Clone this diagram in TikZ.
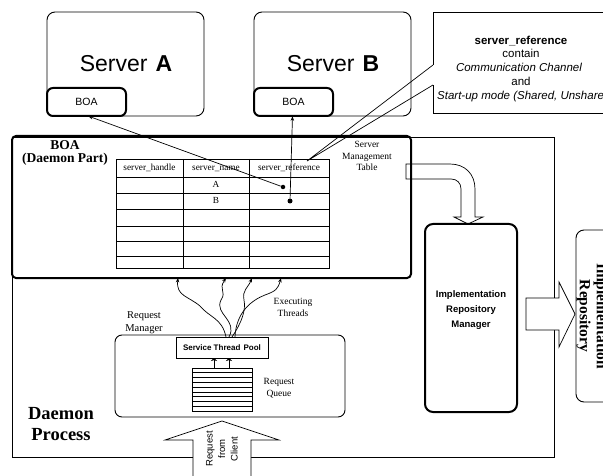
\documentclass[tikz,border=0pt]{standalone}
\usepackage{fontspec}
\setmainfont{Liberation Serif}
\setsansfont{Liberation Sans}
\usetikzlibrary{arrows.meta}
\begin{document}
\begin{tikzpicture}[x=1pt,y=-1pt,
  thinbox/.style={draw,line width=0.9pt,inner sep=0pt,outer sep=0pt},
  thickbox/.style={draw,line width=2pt,inner sep=0pt,outer sep=0pt},
  ptr/.style={line width=0.7pt,-{Stealth[length=5pt,width=3.5pt]}},
  wavy/.style={line width=0.7pt,-{Stealth[length=4.5pt,width=3.5pt]}},
  fat/.style={draw,fill=white,line width=0.7pt,line join=miter},
  cell/.style={font=\fontsize{9.3}{10}\selectfont,anchor=base},
  note/.style={font=\fontsize{9.5}{11.5}\selectfont,align=center,anchor=base},
  label/.style={inner sep=0pt,anchor=base}]
\useasboundingbox (0,0) rectangle (603,476);
\clip (0,0) rectangle (603,476);

% ---------- servers ----------
\node[thinbox,rounded corners=8pt,minimum width=157pt,minimum height=104pt] (serverA) at (125.5,64) {};
\node[thinbox,rounded corners=8pt,minimum width=157pt,minimum height=104pt] (serverB) at (332.5,64) {};
\node[label,font=\sffamily\fontsize{23}{23}\selectfont] (serverAtxt) at (126,72) {Server\hspace{0.35em}\textbf{A}};
\node[label,font=\sffamily\fontsize{23}{23}\selectfont] (serverBtxt) at (333,72) {Server\hspace{0.35em}\textbf{B}};
\node[thickbox,rounded corners=6pt,fill=white,minimum width=79pt,minimum height=28pt,
      font=\sffamily\fontsize{10.5}{11}\selectfont] (boaA) at (86.5,102) {BOA};
\node[thickbox,rounded corners=6pt,fill=white,minimum width=79pt,minimum height=28pt,
      font=\sffamily\fontsize{10.5}{11}\selectfont] (boaB) at (293.5,102) {BOA};

% ---------- callout ----------
\coordinate (calloutTip) at (307,161);
\coordinate (calloutUp) at (433,65);
\coordinate (calloutLo) at (433,85);
\draw[line width=0.8pt] (calloutUp) -- (433,12) -- (650,12) -- (650,113) -- (433,113) -- (calloutLo);
\draw[line width=0.7pt] (calloutUp) -- (calloutTip) -- (calloutLo);
\node[label,font=\sffamily\bfseries\fontsize{11.5}{12}\selectfont] (crefA) at (521,45) {server\_reference};
\node[label,font=\sffamily\fontsize{11.5}{12}\selectfont] (crefB) at (521,58) {contain};
\node[label,font=\sffamily\itshape\fontsize{11.5}{12}\selectfont] (crefC) at (519,72) {Communication Channel};
\node[label,font=\sffamily\fontsize{11.5}{12}\selectfont] (crefD) at (521,86) {and};
\node[label,anchor=base west,font=\sffamily\itshape\fontsize{11.5}{12}\selectfont] (crefE) at (437,100) {Start-up mode (Shared, Unshared)};

% ---------- daemon process frame ----------
\node[thinbox,minimum width=542pt,minimum height=320pt] (daemon) at (283,297) {};
\node[label,align=center,font=\bfseries\fontsize{18.5}{21}\selectfont] (daemonTxt) at (61,440) {Daemon\\Process};

% ---------- bent fat arrow to the repository manager ----------
\draw[fat] (406,164) -- (450,164) .. controls (465,164) and (475,174) .. (475,189)
  -- (475,217) -- (483,217) -- (468,224) -- (454,217) -- (461,217) -- (461,189)
  .. controls (461,183) and (457,179) .. (451,179) -- (406,179) -- cycle;

% ---------- BOA (daemon part) ----------
\node[thickbox,rounded corners=4pt,minimum width=399pt,minimum height=142pt] (boaMain) at (211.5,207) {};
\node[label,align=center,font=\bfseries\fontsize{13.5}{13}\selectfont] (boaMainTxt) at (65,163) {BOA\\(Daemon Part)};
\node[note] (smt) at (367,171) {Server\\Management\\Table};

% server management table
\draw[line width=0.8pt] (116,159) rectangle (329,268);
\foreach \yy in {177,193,209,226,241,256} \draw[line width=0.8pt] (116,\yy) -- (329,\yy);
\foreach \xx in {183,249} \draw[line width=0.8pt] (\xx,159) -- (\xx,268);
\node[cell] (hHandle) at (149.5,171) {server\_handle};
\node[cell] (hName) at (216,171) {server\_name};
\node[cell] (hRef) at (289,171) {server\_reference};
\node[cell] (nameA) at (216,188) {A};
\node[cell] (nameB) at (216,204) {B};
\node[circle,fill,inner sep=0pt,minimum size=4.5pt] (dotA) at (283,187) {};
\node[circle,fill,inner sep=0pt,minimum size=5pt] (dotB) at (290,201) {};
\draw[ptr] (dotA) -- ([xshift=1.5pt]boaA.south);
\draw[ptr] (dotB) -- ([xshift=-1pt]boaB.south);

% ---------- implementation repository manager ----------
\node[thickbox,rounded corners=8pt,minimum width=92pt,minimum height=188pt] (irm) at (471,318) {};
\node[label,align=center,font=\sffamily\bfseries\fontsize{9.5}{15}\selectfont] (irmTxt) at (471,327)
  {Implementation\\Repository\\Manager};

% ---------- implementation repository ----------
\node[thinbox,rounded corners=8pt,minimum width=80pt,minimum height=172pt] (repo) at (616,316) {};
\node[inner sep=0pt,rotate=-90,align=center,font=\bfseries\fontsize{15.5}{17}\selectfont] (repoTxt) at (592,316)
  {Implementation\\Repository};
\draw[fat] (526,298) -- (559,298) -- (559,282) -- (575,314) -- (559,347) -- (559,330) -- (526,330) -- cycle;

% ---------- request manager ----------
\node[thinbox,rounded corners=7pt,minimum width=230pt,minimum height=82pt] (reqMgr) at (230,376) {};
\node[note,font=\fontsize{10.5}{13}\selectfont] (reqMgrTxt) at (144,331.5) {Request\\Manager};
\node[thinbox,fill=white,minimum width=92pt,minimum height=21pt,
      font=\sffamily\bfseries\fontsize{8}{8}\selectfont] (pool) at (222,347.5) {Service Thread\hspace{0.4em}Pool};
\node[thinbox,minimum width=60pt,minimum height=43pt] (queue) at (222,389.5) {};
\foreach \k in {1,...,8} \draw[line width=0.8pt] (192,368+4.8*\k) -- (252,368+4.8*\k);
\node[note] (queueTxt) at (279,396) {Request\\Queue};
\draw[line width=0.8pt,-{Stealth[length=3pt,width=6pt]}] ([xshift=-8pt]queue.north) -- ([xshift=-8pt]pool.south);
\draw[line width=0.8pt,-{Stealth[length=3pt,width=6pt]}] ([xshift=7pt]queue.north) -- ([xshift=7pt]pool.south);

% executing threads
\draw[wavy] ([xshift=4pt]pool.north) .. controls (222,318) and (210,318) .. (200,306)
  .. controls (188,296) and (176,296) .. ([xshift=-33.5pt]boaMain.south);
\draw[wavy] ([xshift=7pt]pool.north) .. controls (238,320) and (214,314) .. (221,300)
  .. controls (227,291) and (218,290) .. ([xshift=14.5pt]boaMain.south);
\draw[wavy] ([xshift=10pt]pool.north) .. controls (242,322) and (246,310) .. (244,300)
  .. controls (242,290) and (248,288) .. ([xshift=40.5pt]boaMain.south);
\draw[wavy] ([xshift=13pt]pool.north) .. controls (236,312) and (252,300) .. (265,295)
  .. controls (276,291) and (278,289) .. ([xshift=69.5pt]boaMain.south);
\node[note] (execTxt) at (293,316) {Executing\\Threads};

% ---------- request from client ----------
\draw[fat] (193,480) -- (193,440) -- (165,440) -- (222,421) -- (279,440) -- (251,440) -- (251,480);
\node[inner sep=0pt,rotate=90,align=center,font=\sffamily\fontsize{9.5}{12.5}\selectfont] (clientTxt) at (222,449)
  {Request\\from\\Client};
\end{tikzpicture}
\end{document}
